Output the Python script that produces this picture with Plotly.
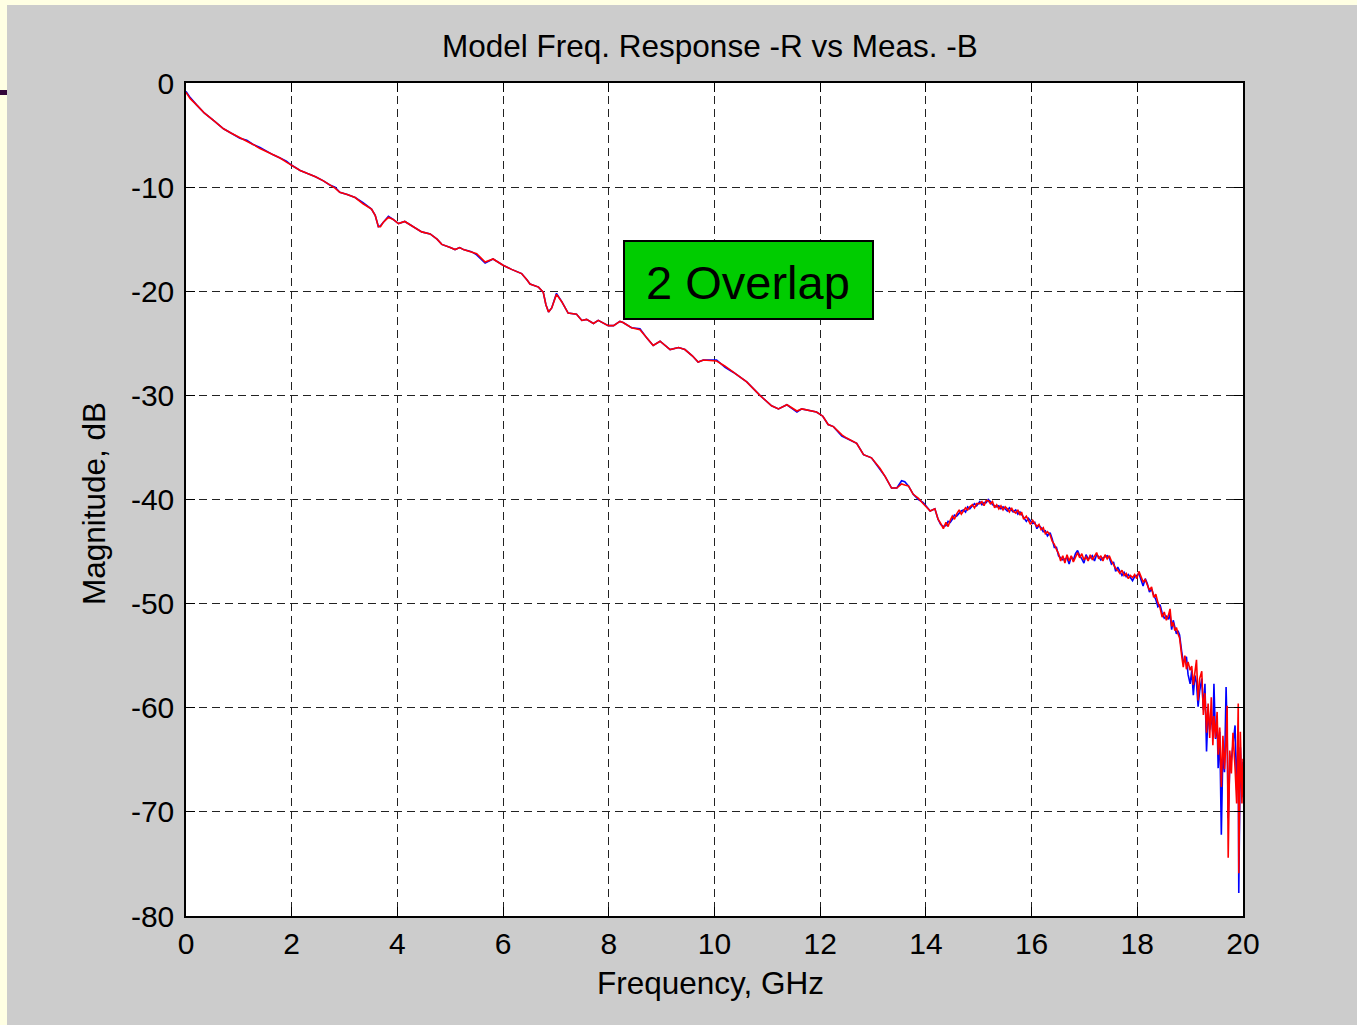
import plotly.graph_objects as go

# ---------------- data ----------------
freq_ghz = [
    0.00, 0.08, 0.20, 0.35, 0.52, 0.71, 0.85, 1.02, 1.15, 1.27, 1.40, 1.53, 1.65, 1.78, 1.90,
    2.00, 2.16, 2.30, 2.45, 2.60, 2.72, 2.82, 2.91, 3.05, 3.20, 3.35, 3.51, 3.58, 3.64, 3.68,
    3.73, 3.83, 3.92, 4.02, 4.14, 4.27, 4.46, 4.62, 4.75, 4.84, 4.90, 5.00, 5.09, 5.18, 5.25,
    5.40, 5.50, 5.58, 5.66, 5.81, 6.00, 6.16, 6.35, 6.45, 6.51, 6.67, 6.76, 6.81, 6.86, 6.92,
    7.01, 7.11, 7.23, 7.39, 7.49, 7.58, 7.71, 7.80, 7.99, 8.09, 8.21, 8.27, 8.43, 8.59, 8.72,
    8.84, 8.97, 9.16, 9.32, 9.44, 9.58, 9.69, 9.79, 10.04, 10.20, 10.36, 10.61, 10.86, 11.08, 11.21,
    11.37, 11.56, 11.65, 11.93, 12.05, 12.15, 12.25, 12.41, 12.50, 12.69, 12.82, 12.97, 13.13, 13.23, 13.35,
    13.45, 13.54, 13.60, 13.67, 13.76, 13.86, 13.95, 14.08, 14.17, 14.23, 14.28,
    14.33, 14.38, 14.42, 14.46, 14.50, 14.54, 14.58, 14.63, 14.67, 14.71, 14.75, 14.79, 14.83, 14.88, 14.92,
    14.96, 15.02, 15.06, 15.10, 15.14, 15.18, 15.22, 15.26, 15.30, 15.34, 15.38, 15.42, 15.46, 15.50, 15.54,
    15.58, 15.62, 15.65, 15.70, 15.74, 15.78, 15.81, 15.85, 15.90, 15.94, 15.98, 16.02, 16.06, 16.10, 16.14,
    16.18, 16.22, 16.26, 16.30, 16.35, 16.39, 16.43, 16.47, 16.51, 16.55, 16.59, 16.63, 16.67, 16.71, 16.75,
    16.79, 16.83, 16.87, 16.91, 16.95, 16.99, 17.03, 17.07, 17.11, 17.15, 17.19, 17.23, 17.27, 17.31, 17.35,
    17.39, 17.43, 17.47, 17.51, 17.55, 17.59, 17.63, 17.67, 17.71, 17.75, 17.79, 17.83, 17.87, 17.91, 17.95,
    17.99, 18.03, 18.07, 18.11, 18.15, 18.19, 18.23, 18.27, 18.31, 18.35, 18.39, 18.43, 18.47, 18.51, 18.55,
    18.59, 18.62, 18.65, 18.68, 18.71, 18.74, 18.77, 18.80,
    18.84, 18.87, 18.90, 18.93, 18.96, 19.00, 19.03, 19.06, 19.09, 19.12, 19.15, 19.18, 19.22, 19.25, 19.28,
    19.31, 19.34, 19.37, 19.40, 19.43, 19.45, 19.48, 19.51, 19.53, 19.56, 19.59, 19.62, 19.65, 19.68, 19.70,
    19.72, 19.75, 19.78, 19.81, 19.85, 19.88, 19.91, 19.92, 19.95, 19.98, 20.00,
]

model_db = [  # red trace (model)
    -0.9, -1.5, -2.1, -2.9, -3.6, -4.4, -4.8, -5.3, -5.6, -5.9, -6.3, -6.6, -6.9, -7.2, -7.6,
    -7.9, -8.4, -8.7, -9.0, -9.4, -9.8, -10.1, -10.5, -10.7, -11.0, -11.6, -12.1, -12.7, -13.8, -13.8,
    -13.4, -12.9, -13.1, -13.5, -13.3, -13.7, -14.3, -14.5, -15.0, -15.5, -15.6, -15.8, -16.0, -15.8, -16.0,
    -16.2, -16.4, -16.8, -17.2, -16.9, -17.5, -17.9, -18.3, -18.9, -19.3, -19.6, -20.1, -21.3, -22.0, -21.6,
    -20.3, -21.0, -22.1, -22.2, -22.8, -22.7, -23.1, -22.8, -23.3, -23.3, -22.9, -23.0, -23.5, -23.7, -24.5,
    -25.2, -24.8, -25.6, -25.4, -25.6, -26.2, -26.8, -26.6, -26.7, -27.2, -27.8, -28.7, -30.0, -31.0, -31.3,
    -30.9, -31.5, -31.3, -31.6, -32.0, -32.8, -33.0, -33.8, -34.1, -34.6, -35.7, -36.0, -37.0, -37.8, -38.9,
    -38.9, -38.5, -38.6, -38.7, -39.5, -39.9, -40.4, -41.1, -40.9, -41.9, -42.3,
    -42.8, -42.2, -42.6, -42.0, -41.6, -41.9, -41.4, -41.0, -41.4, -41.1, -40.8, -41.0, -40.7, -40.5, -40.8,
    -40.4, -40.4, -40.2, -40.6, -40.1, -40.1, -40.4, -40.2, -40.8, -40.5, -40.9, -40.6, -41.0, -40.7, -40.9,
    -41.2, -40.8, -41.1, -41.3, -41.0, -41.5, -41.2, -41.9, -41.6, -42.0, -42.4, -42.0, -42.3, -42.6, -42.4,
    -42.9, -42.7, -43.3, -43.1, -43.4, -44.0, -44.3, -44.8, -45.2, -45.9, -45.4, -46.1, -45.3, -45.9, -45.4,
    -46.0, -45.5, -45.1, -45.6, -45.2, -45.8, -45.5, -45.9, -45.3, -45.8, -45.5, -45.1, -45.7, -45.4, -45.9,
    -45.3, -45.7, -45.4, -45.9, -46.3, -46.6, -46.8, -47.1, -46.8, -47.3, -47.1, -47.6, -47.3, -47.5, -47.2,
    -47.6, -46.9, -47.5, -47.9, -47.7, -48.3, -48.7, -48.4, -49.4, -49.1, -49.9, -50.4, -51.3, -50.8, -51.6,
    -51.1, -50.5, -52.2, -51.8, -52.6, -52.3, -52.9, -53.3,
    -55.0, -56.1, -55.0, -56.3, -55.6, -56.4, -56.0, -57.8, -56.6, -55.4, -59.3, -57.2, -56.5, -60.7, -58.6,
    -62.4, -59.6, -62.9, -59.0, -63.6, -60.8, -62.9, -60.4, -64.5, -61.9, -67.6, -62.7, -65.9, -63.2, -59.8,
    -74.4, -64.1, -66.3, -62.4, -65.8, -69.2, -59.6, -75.9, -62.3, -69.2, -64.9,
]

meas_db = [  # blue trace (measurement)
    -0.8, -1.4, -2.1, -2.9, -3.6, -4.4, -4.8, -5.3, -5.5, -5.9, -6.2, -6.6, -6.9, -7.2, -7.5,
    -7.9, -8.4, -8.7, -9.0, -9.4, -9.8, -10.0, -10.5, -10.7, -11.0, -11.5, -12.1, -12.7, -13.8, -13.7,
    -13.4, -12.8, -13.1, -13.5, -13.3, -13.7, -14.3, -14.5, -15.0, -15.5, -15.6, -15.8, -16.0, -15.8, -16.0,
    -16.2, -16.5, -16.9, -17.3, -16.9, -17.5, -17.9, -18.3, -18.9, -19.3, -19.6, -20.1, -21.3, -22.0, -21.6,
    -20.2, -21.0, -22.1, -22.2, -22.8, -22.7, -23.1, -22.8, -23.3, -23.3, -22.9, -23.0, -23.5, -23.6, -24.5,
    -25.2, -24.8, -25.6, -25.4, -25.6, -26.2, -26.8, -26.6, -26.6, -27.3, -27.8, -28.7, -30.0, -31.0, -31.3,
    -30.9, -31.6, -31.3, -31.6, -32.0, -32.8, -33.0, -33.9, -34.1, -34.6, -35.7, -36.0, -37.1, -37.8, -38.9,
    -38.9, -38.2, -38.3, -38.7, -39.5, -40.0, -40.3, -41.1, -40.9, -41.9, -42.4,
    -42.6, -42.5, -42.1, -42.2, -41.9, -41.5, -41.6, -41.3, -41.1, -41.0, -41.2, -40.7, -40.9, -40.6, -40.4,
    -40.6, -40.2, -40.5, -40.3, -40.3, -40.0, -40.2, -40.5, -40.6, -40.7, -40.6, -40.9, -40.7, -40.9, -41.1,
    -40.8, -41.0, -41.2, -41.0, -41.4, -41.2, -41.4, -41.7, -42.1, -41.8, -42.1, -42.3, -42.2, -42.8, -42.5,
    -42.7, -43.1, -43.0, -43.5, -43.2, -43.8, -44.6, -44.6, -45.4, -45.6, -45.8, -45.7, -45.6, -46.2, -45.5,
    -45.8, -45.2, -44.9, -45.4, -45.7, -46.1, -45.3, -45.7, -45.6, -45.4, -45.9, -45.3, -45.5, -45.8, -45.6,
    -45.5, -45.4, -45.6, -46.2, -46.0, -46.9, -46.5, -46.9, -47.3, -47.0, -47.4, -47.2, -47.5, -47.8, -47.4,
    -47.3, -47.1, -47.8, -48.3, -47.6, -48.1, -48.9, -48.6, -49.2, -49.6, -50.3, -50.1, -50.9, -51.4, -51.2,
    -51.5, -51.0, -52.5, -51.6, -52.3, -52.9, -52.6, -53.0,
    -54.6, -55.6, -55.4, -55.1, -56.8, -57.7, -56.4, -58.8, -56.9, -57.6, -59.9, -58.4, -57.2, -60.2, -57.7,
    -64.2, -60.3, -62.1, -60.8, -62.5, -57.7, -63.0, -61.2, -65.8, -62.3, -72.2, -64.0, -66.2, -58.0, -62.4,
    -70.6, -65.5, -65.0, -63.7, -61.7, -67.9, -62.6, -77.8, -63.8, -68.6, -65.2,
]

x_ticks = [0, 2, 4, 6, 8, 10, 12, 14, 16, 18, 20]
x_tick_labels = ["0", "2", "4", "6", "8", "10", "12", "14", "16", "18", "20"]
y_ticks = [0, -10, -20, -30, -40, -50, -60, -70, -80]
y_tick_labels = ["0", "-10", "-20", "-30", "-40", "-50", "-60", "-70", "-80"]

title_text = "Model Freq. Response -R vs Meas. -B"
x_label = "Frequency, GHz"
y_label = "Magnitude, dB"
box_label = "2 Overlap"

# ---------------- figure ----------------
FONT = "Liberation Sans, Arial, Helvetica, sans-serif"
W, H = 1357, 1025
L, R, T, B = 186, 1243, 83, 916  # plot area in pixels


def px(xp):
    return (xp - L) / (R - L)


def py(yp):
    return (B - yp) / (B - T)


fig = go.Figure()
fig.add_trace(go.Scatter(x=freq_ghz, y=meas_db, mode="lines",
                         line=dict(color="#0000ff", width=1.6), name="Meas"))
fig.add_trace(go.Scatter(x=freq_ghz, y=model_db, mode="lines",
                         line=dict(color="#ff0000", width=1.6), name="Model"))

axis_common = dict(
    showline=True, linecolor="black", linewidth=1.5, mirror="allticks",
    ticks="inside", ticklen=9, tickcolor="black", tickwidth=1,
    showgrid=True, gridcolor="#222222", gridwidth=1.1, griddash="8px,5px",
    zeroline=False, tickfont=dict(family=FONT, size=30, color="black"),
)

fig.update_layout(
    width=W, height=H,
    margin=dict(l=L, r=W - R, t=T, b=H - B, pad=0),
    paper_bgcolor="#cccccc", plot_bgcolor="white",
    showlegend=False,
    font=dict(family=FONT, color="black"),
    xaxis=dict(range=[0, 20], tickvals=x_ticks, ticktext=x_tick_labels, **axis_common),
    yaxis=dict(range=[-80, 0], tickvals=y_ticks, ticktext=y_tick_labels,
               ticklabelstandoff=4, **axis_common),
)

# slide frame (pale yellow strips and small dark mark at the left)
fig.add_shape(type="rect", xref="paper", yref="paper", layer="above",
              x0=-0.3, x1=1.3, y0=py(5), y1=py(-20), line_width=0, fillcolor="#ffffe3")
fig.add_shape(type="rect", xref="paper", yref="paper", layer="above",
              x0=px(-20), x1=px(7), y0=py(1040), y1=py(-20), line_width=0, fillcolor="#ffffe3")
fig.add_shape(type="rect", xref="paper", yref="paper", layer="above",
              x0=px(-20), x1=px(7), y0=py(95), y1=py(90), line_width=0, fillcolor="#33063a")

# green label box
fig.add_shape(type="rect", xref="paper", yref="paper", layer="above",
              x0=px(624), x1=px(873), y0=py(319), y1=py(241),
              line=dict(color="black", width=2), fillcolor="#00cc00")
fig.add_annotation(xref="paper", yref="paper", x=px(748), y=py(282),
                   text=box_label, showarrow=False, xanchor="center", yanchor="middle",
                   font=dict(family=FONT, size=47, color="black"))

# titles
fig.add_annotation(xref="paper", yref="paper", x=px(710), y=py(46),
                   text=title_text, showarrow=False, xanchor="center", yanchor="middle",
                   font=dict(family=FONT, size=31.5, color="black"))
fig.add_annotation(xref="paper", yref="paper", x=px(710), y=py(983),
                   text=x_label, showarrow=False, xanchor="center", yanchor="middle",
                   font=dict(family=FONT, size=31.5, color="black"))
fig.add_annotation(xref="paper", yref="paper", x=px(94), y=py(504),
                   text=y_label, showarrow=False, xanchor="center", yanchor="middle",
                   textangle=-90, font=dict(family=FONT, size=31.5, color="black"))

fig.write_html("out.html")
